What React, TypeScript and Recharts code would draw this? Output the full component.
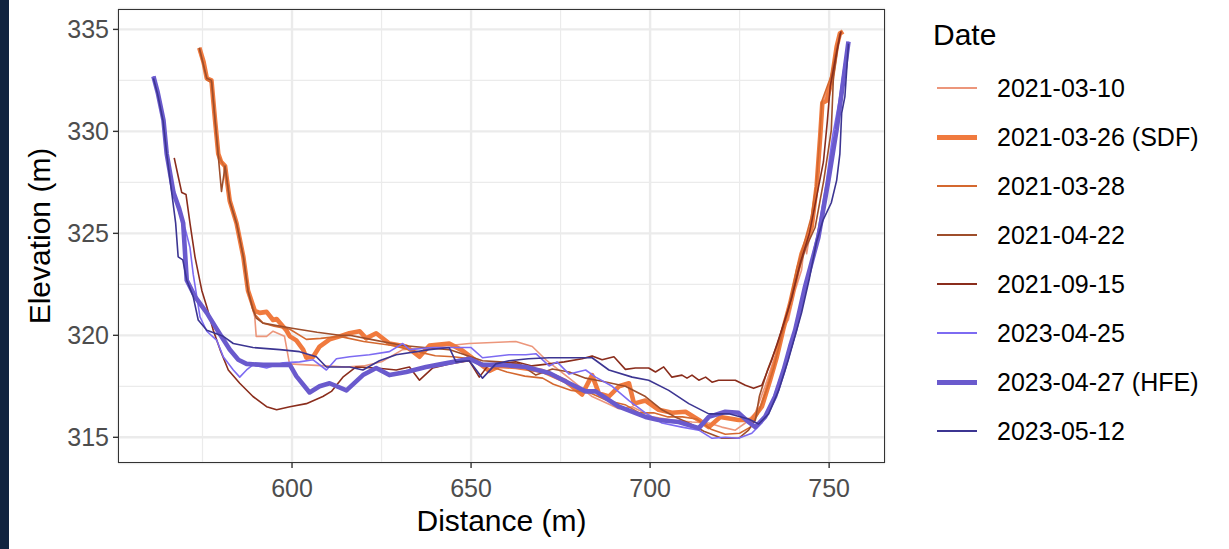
import React from "react";
import { LineChart, Line, XAxis, YAxis, CartesianGrid } from "recharts";

// survey dates (legend order = draw order)
const dates = [
  "2021-03-10",
  "2021-03-26 (SDF)",
  "2021-03-28",
  "2021-04-22",
  "2021-09-15",
  "2023-04-25",
  "2023-04-27 (HFE)",
  "2023-05-12",
];

const COLORS = ["#EC967B", "#F07A3E", "#D4682F", "#9E4E2B", "#8A2D1C", "#7D6BF2", "#6A5ACD", "#3C3592"];
const WIDTHS = [1.6, 4.6, 1.6, 1.6, 1.6, 1.6, 4.6, 1.6];

// [distance m, elevation m]
const p20210310: [number, number][] = [
  [574, 334.0], [576.2, 332.6], [577.8, 332.3], [578.6, 330.5], [579.5, 328.8], [581.2, 328.2], [582.7, 326.5],
  [584.6, 325.4], [586.5, 323.8], [587.8, 322.1], [589.6, 320.9], [590, 319.95], [592.9, 319.95], [594.7, 320.2],
  [597.9, 319.95], [599.3, 318.6], [604, 318.55], [609.6, 318.5], [615, 318.45], [620, 318.5], [625, 318.7],
  [630.9, 319.3], [638.4, 319.4], [649.5, 319.6], [662.5, 319.7], [667.1, 319.45], [670.9, 318.8], [677.4, 317.9],
  [683.8, 317.0], [691.3, 316.4], [695, 316.5], [700.6, 316.0], [706.1, 315.85], [711.7, 315.75], [716.4, 315.7],
  [720, 315.5], [723.8, 315.35], [726.6, 315.7], [729.4, 316.2], [732.1, 317.5], [734.9, 319.0], [736.8, 320.3],
  [738.6, 320.75], [740.5, 322.2], [742.3, 323.2], [743.2, 324.6], [743.7, 324.0], [744.7, 325.0], [746.1, 326.5],
  [747.2, 329.5], [748, 331.3], [750.5, 332.6], [752, 334.1], [753, 334.7],
];

const p20210326: [number, number][] = [
  [574.1, 334.1], [575.3, 333.4], [576.2, 332.6], [577.5, 332.5], [578.5, 330.55], [579.4, 328.9], [580.2, 328.5],
  [581.3, 328.3], [582.6, 326.6], [584.5, 325.5], [586.4, 323.85], [587.7, 322.2], [589.6, 321.2], [591, 321.1],
  [592.9, 321.15], [594.7, 320.75], [595.7, 320.8], [598.4, 320.25], [599.4, 319.95], [601.2, 319.75], [603.1, 319.3],
  [604, 318.9], [605.9, 318.95], [607.7, 319.45], [610.5, 319.8], [613.3, 319.95], [616, 320.1], [618.9, 320.2],
  [620.7, 319.85], [623.5, 320.1], [627.2, 319.6], [631.9, 319.45], [635.6, 318.95], [638.4, 319.5], [643.9, 319.6],
  [647.6, 319.25], [651.4, 318.75], [655.1, 318.25], [657.9, 318.5], [662.5, 318.45], [669.9, 318.25], [676.4, 317.75],
  [681, 317.1], [683.8, 318.05], [685.7, 317.15], [688.5, 317.0], [691.3, 317.5], [694.1, 317.65], [695.5, 316.65],
  [698.7, 316.8], [702.4, 316.35], [706.1, 316.2], [709.9, 316.25], [713.6, 315.85], [716.4, 315.5], [719.6, 316.0],
  [724.7, 315.85], [728.4, 315.85], [731.2, 316.5], [733.5, 317.8], [735.4, 318.95], [737.2, 320.3], [739.1, 321.55],
  [742.3, 324.0], [745.1, 325.3], [746.5, 327.3], [747.5, 329.75], [748.1, 331.4], [749.3, 331.5], [750.7, 332.5],
  [752.1, 334.15], [753, 334.8], [753.9, 334.9],
];

const p20210328: [number, number][] = [
  [574.2, 334.0], [576.3, 332.5], [577.6, 332.4], [578.6, 330.4], [579.5, 328.8], [581.3, 328.2], [582.7, 326.5],
  [584.6, 325.4], [586.5, 323.8], [587.8, 322.1], [589.8, 321.0], [591.9, 320.6], [595, 320.45], [599.4, 320.3],
  [604, 319.8], [608, 319.85], [613.3, 319.95], [620, 319.7], [628.1, 319.5], [635, 319.2], [640, 319.0],
  [645, 318.95], [650, 318.85], [655, 318.5], [660, 318.2], [665, 318.0], [670, 317.9], [673, 317.6], [678, 317.3],
  [683, 317.2], [688, 316.8], [693, 316.6], [697, 316.2], [701, 316.2], [705, 316.0], [709, 316.0], [713, 315.9],
  [717, 315.4], [721, 315.15], [725, 315.2], [728, 315.5], [730, 316.1], [732.5, 317.3], [734.5, 318.4],
  [736.5, 319.8], [738.5, 321.2], [741, 323.3], [743, 324.5], [745, 325.8], [746.4, 327.4], [747.4, 329.8],
  [748, 331.5], [750.5, 332.7], [752.2, 334.2], [753.5, 334.9],
];

const p20210422: [number, number][] = [
  [574.1, 334.1], [576.2, 332.6], [577.5, 332.5], [578.5, 330.55], [579.5, 328.6], [580.3, 327.05], [581.3, 328.3],
  [582.6, 326.6], [584.5, 325.5], [586.4, 323.85], [587.7, 322.2], [589, 321.3], [590, 320.85], [591.9, 320.6],
  [600, 320.35], [607, 320.15], [613.3, 320.0], [616.1, 320.0], [622, 319.8], [630.9, 319.5], [637, 319.4],
  [643.9, 319.3], [653.2, 318.75], [658, 318.7], [663.5, 318.6], [668.1, 318.05], [672.7, 318.35], [677.4, 318.2],
  [682, 317.9], [686.6, 317.75], [693.1, 317.5], [698.7, 317.0], [703.3, 316.35], [707, 316.0], [710.8, 315.7],
  [715, 315.3], [720, 314.95], [724.7, 314.95], [727.5, 315.35], [729.4, 315.85], [730.5, 317.0], [732.8, 318.3],
  [735.6, 319.6], [738.5, 321.2], [741.5, 323.2], [743.5, 324.3], [746.1, 325.3], [748.5, 327.6], [750.6, 330.05],
  [751.2, 332.7], [753, 334.8],
];

const p20210915: [number, number][] = [
  [567.1, 328.7], [568.2, 327.8], [569.2, 327.0], [570.4, 326.9], [571.5, 325.5], [572.9, 323.85], [574.8, 322.2],
  [576.2, 321.4], [578, 320.25], [579.9, 319.3], [582.2, 318.3], [585.4, 317.65], [589.1, 317.0], [592.9, 316.5],
  [595.7, 316.35], [599.4, 316.5], [604, 316.65], [608.6, 317.0], [611, 317.25], [614.2, 317.95], [617.9, 318.45],
  [623.5, 318.4], [629.1, 318.3], [632.8, 318.45], [635.6, 317.8], [639.3, 318.4], [643.9, 318.6], [649.5, 318.75],
  [652.3, 317.95], [655.1, 318.6], [662.5, 318.7], [667, 318.5], [671.8, 318.6], [676, 318.7], [681, 318.85],
  [683.8, 318.99], [686.6, 318.8], [689.9, 318.95], [693.1, 318.33], [695.9, 318.4], [699.6, 318.4], [701.5, 318.2],
  [703.8, 318.45], [706.1, 317.95], [708.9, 318.05], [710.3, 317.9], [711.7, 318.05], [713.6, 317.8], [715.5, 317.95],
  [717.3, 317.7], [719.1, 317.8], [723.8, 317.8], [726.6, 317.55], [728.9, 317.4], [731.2, 317.55], [734, 318.8],
  [736.8, 320.3], [739.5, 321.8], [742, 323.6], [744.5, 325.0], [746.5, 326.8], [748.4, 328.5], [749.5, 330.5],
  [750.3, 332.2], [752, 333.8], [753.3, 334.9],
];

const p20230425: [number, number][] = [
  [561.3, 332.7], [563, 331.6], [564.1, 330.55], [565, 328.9], [566.9, 327.0], [568.5, 326.0], [570.2, 325.2],
  [571.5, 324.3], [572.4, 323.0], [574.3, 320.9], [576.2, 320.2], [579, 319.75], [580.8, 318.95], [583.6, 318.3],
  [585.4, 317.95], [587.3, 318.3], [589.1, 318.55], [592.9, 318.4], [597.5, 318.65], [602.1, 318.7], [605.9, 318.8],
  [609.6, 318.3], [612.4, 318.85], [616.1, 318.95], [621.6, 319.05], [627.2, 319.2], [630.9, 319.6], [632.8, 319.3],
  [639.3, 319.4], [645.8, 319.4], [650, 319.4], [653.2, 318.9], [660.6, 319.05], [665.3, 319.05], [668.1, 319.1],
  [671.8, 318.5], [674, 318.7], [677.4, 318.1], [682, 318.3], [684.8, 317.95], [689.4, 317.5], [694.1, 316.8],
  [698.7, 316.2], [703.3, 315.7], [708.9, 315.5], [713.6, 315.35], [717.3, 314.95], [721, 315.0], [724.7, 314.95],
  [728.4, 315.2], [731.2, 315.7], [734, 316.7], [736.8, 318.15], [739.6, 319.45], [742.5, 321.5], [745, 323.6],
  [747, 325.2], [749.2, 327.5], [751, 329.8], [752.8, 331.5], [754.2, 333.2], [755.4, 334.4],
];

const p20230427: [number, number][] = [
  [561.3, 332.7], [562.5, 331.9], [564.1, 330.55], [565, 328.9], [566.9, 327.0], [568.5, 326.2], [569.6, 325.5],
  [570.6, 322.7], [572.9, 321.9], [576.2, 321.1], [579, 320.3], [582.6, 319.3], [585, 318.8], [587.3, 318.6],
  [592, 318.55], [597.5, 318.55], [599.4, 318.55], [601.2, 318.0], [604.9, 317.2], [607.7, 317.5], [610.5, 317.65],
  [615.2, 317.3], [619.8, 318.05], [623.5, 318.4], [627.2, 318.05], [631.9, 318.2], [637.4, 318.45], [642.1, 318.6],
  [646.7, 318.75], [649.5, 318.85], [653.2, 318.55], [658.8, 318.55], [665.3, 318.45], [671.8, 318.15], [677.4, 317.65],
  [682, 317.25], [684.8, 317.25], [691.3, 316.5], [698.7, 316.0], [702.4, 315.85], [708, 315.75], [713.6, 315.45],
  [716.4, 316.0], [721, 316.25], [724.7, 316.2], [727.5, 315.75], [729.4, 315.5], [732.1, 316.0], [734.9, 317.0],
  [737.3, 318.3], [739.1, 319.45], [740.5, 320.25], [743.3, 322.4], [747, 324.8], [749.8, 327.6], [752.1, 330.1],
  [753.5, 331.9], [755.4, 334.4],
];

const p20230512: [number, number][] = [
  [561.3, 332.6], [562.5, 331.8], [564, 330.5], [565, 328.9], [566.4, 327.0], [567.5, 325.5], [568.2, 323.85],
  [569.5, 323.7], [570.6, 322.7], [572.4, 321.9], [573.8, 320.75], [576.2, 320.25], [580.8, 319.95], [583.6, 319.6],
  [589.1, 319.4], [596.6, 319.3], [602.1, 319.2], [606.8, 318.95], [609.6, 318.45], [613, 318.45], [616.1, 318.45],
  [619.8, 318.3], [624.4, 318.75], [629.1, 319.05], [638.4, 319.3], [643.9, 319.4], [645.8, 318.7], [649.5, 318.75],
  [653.2, 317.9], [656.9, 318.6], [660.6, 318.75], [666, 318.85], [671.8, 318.9], [678, 318.9], [683.8, 318.9],
  [688.5, 318.3], [695, 317.95], [699.6, 317.8], [705.2, 317.3], [710.8, 316.65], [716.4, 316.15], [722, 316.15],
  [727.5, 315.9], [730.3, 315.65], [733.1, 316.15], [735.9, 317.3], [738.6, 318.8], [742.3, 321.1], [744.5, 322.8],
  [746.5, 324.6], [748.3, 325.65], [750.6, 326.5], [752.1, 327.6], [753, 328.9], [753.5, 330.9], [754.4, 331.7],
  [755.4, 334.3],
];

const profiles = [p20210310, p20210326, p20210328, p20210422, p20210915, p20230425, p20230427, p20230512];

const xTicks = [600, 650, 700, 750];
const yTicks = [315, 320, 325, 330, 335];
const xMinor = [575, 625, 675, 725];
const yMinor = [317.5, 322.5, 327.5, 332.5];

const series = dates.map((name, i) => ({
  name,
  color: COLORS[i],
  width: WIDTHS[i],
  data: profiles[i].map(([x, y]) => ({ x, y })),
}));

const FONT = "'Liberation Sans', Arial, sans-serif";
const tickStyle = { fill: "#4D4D4D", fontSize: 25, fontFamily: FONT };

export default function App() {
  return (
    <div style={{ position: "absolute", left: 0, top: 0, width: 1229, height: 549, background: "#fff", fontFamily: FONT }}>
      <div style={{ position: "absolute", left: 0, top: 0, width: 9, height: 549, background: "#10233F" }} />
      <LineChart width={1229} height={549} margin={{ top: 9, right: 344, bottom: 0, left: 48 }}>
        <CartesianGrid stroke="#EBEBEB" strokeWidth={1.2} verticalValues={xMinor} horizontalValues={yMinor} />
        <CartesianGrid stroke="#EBEBEB" strokeWidth={2.4} />
        <XAxis
          dataKey="x"
          type="number"
          domain={[551.4, 765.6]}
          ticks={xTicks}
          allowDataOverflow
          height={86}
          axisLine={false}
          tickSize={5}
          tickMargin={11}
          tickLine={{ stroke: "#333", strokeWidth: 1.4 }}
          tick={tickStyle}
        />
        <YAxis
          dataKey="y"
          type="number"
          domain={[313.74, 336.0]}
          ticks={yTicks}
          allowDataOverflow
          width={70}
          axisLine={false}
          tickSize={5}
          tickMargin={4}
          tickLine={{ stroke: "#333", strokeWidth: 1.4 }}
          tick={tickStyle}
        />
        {series.map((s) => (
          <Line
            key={s.name}
            data={s.data}
            dataKey="y"
            name={s.name}
            stroke={s.color}
            strokeWidth={s.width}
            strokeLinejoin="round"
            dot={false}
            activeDot={false}
            isAnimationActive={false}
          />
        ))}
      </LineChart>

      {/* panel border */}
      <div style={{ position: "absolute", left: 118, top: 9, width: 767, height: 454, boxSizing: "border-box", border: "1.4px solid #333", pointerEvents: "none" }} />

      {/* axis titles */}
      <div style={{ position: "absolute", left: 118, width: 767, top: 503, textAlign: "center", fontSize: 30, color: "#000", lineHeight: "36px" }}>
        Distance (m)
      </div>
      <div
        style={{
          position: "absolute",
          left: 40,
          top: 236,
          transform: "translate(-50%, -50%) rotate(-90deg)",
          fontSize: 30,
          color: "#000",
          whiteSpace: "nowrap",
          lineHeight: "36px",
        }}
      >
        Elevation (m)
      </div>

      {/* legend */}
      <div style={{ position: "absolute", left: 933, top: 17, fontSize: 30, lineHeight: "36px", color: "#000" }}>Date</div>
      {series.map((s, i) => (
        <div key={s.name} style={{ position: "absolute", left: 937, top: 88 + i * 49 - 18, height: 36, display: "flex", alignItems: "center" }}>
          <div style={{ width: 40, height: s.width > 3 ? 5 : 2.2, background: s.color }} />
          <div style={{ marginLeft: 20, fontSize: 25, color: "#000", whiteSpace: "nowrap" }}>{s.name}</div>
        </div>
      ))}
    </div>
  );
}
